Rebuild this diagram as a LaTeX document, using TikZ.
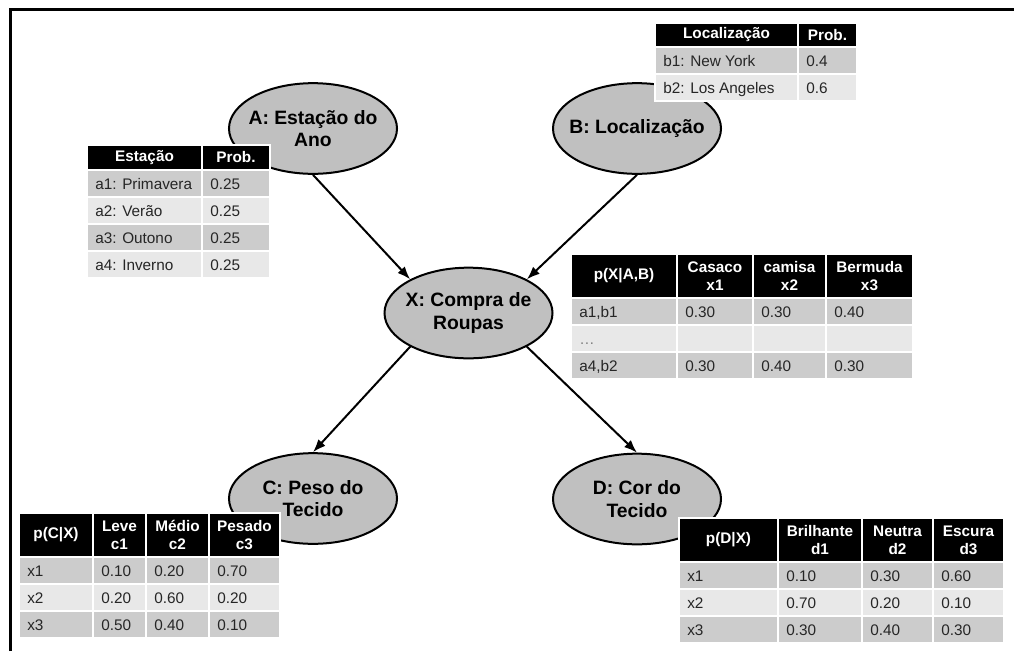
\documentclass[tikz,border=0pt]{standalone}
\usepackage{fontspec}
\setmainfont{Liberation Sans}
\usetikzlibrary{arrows.meta,shapes.geometric}
\definecolor{ovalgray}{HTML}{C0C0C0}
\definecolor{rowdark}{HTML}{CCCCCC}
\definecolor{rowlight}{HTML}{E8E8E8}
\definecolor{celltext}{HTML}{262626}
\newcommand{\ovalfont}{\bfseries\fontsize{14.5}{17}\selectfont}
\newcommand{\headfont}{\bfseries\fontsize{11.5}{13.5}\selectfont}
\newcommand{\cellfont}{\fontsize{11.5}{13.5}\selectfont}

\begin{document}
\begin{tikzpicture}[x=.75pt,y=-.75pt,>=Latex,
  oval/.style={ellipse,draw,line width=1.5pt,fill=ovalgray,minimum width=126pt,minimum height=68pt,inner xsep=-8pt,inner ysep=0pt,align=center,font=\ovalfont},
  link/.style={->,line width=1.5pt},
  cell/.style={draw=white,line width=1pt},
  hd/.style={text=white,font=\headfont,align=center,inner sep=0pt},
  tx/.style={anchor=base west,text=celltext,font=\cellfont,inner sep=0pt}]
\useasboundingbox (0,0) rectangle (1014,651);
\draw[line width=2.25pt] (10.5,651)--(10.5,9.5)--(1014,9.5);

\node[oval] (A) at (313,128.5) {A: Estação do\\Ano};
\node[oval] (B) at (637,128.5) {B: Localização};
\node[oval] (X) at (468.5,313) {X: Compra de\\Roupas};
\node[oval] (C) at (313,498.5) {C: Peso do\\Tecido};
\node[oval] (D) at (637,499) {D: Cor do\\Tecido};
\draw[link] (A.south)--(X.150);
\draw[link] (B.south)--(X.30);
\draw[link] (X.210)--(C.north);
\draw[link] (X.330)--(D.north);

\foreach \xa/\xb/\t [count=\j] in {87/202/Estação,202/270/Prob.}{
  \draw[cell,fill=black] (\xa,145) rectangle (\xb,170);
  \node[hd] (ea-0-\j) at ({(\xa+\xb)/2},157.5) {\t};
}
\foreach \ya/\yb/\c/\ta/\tb [count=\i] in {170/197/rowdark/a1: Primavera/0.25,197/224/rowlight/a2: Verão/0.25,224/251/rowdark/a3: Outono/0.25,251/278/rowlight/a4: Inverno/0.25}{
  \foreach \xa/\xb/\t [count=\j] in {87/202/\ta,202/270/\tb}{
    \draw[cell,fill=\c] (\xa,\ya) rectangle (\xb,\yb);
    \node[tx] (ea-\i-\j) at (\xa+8,{(\ya+\yb)/2+6}) {\t};
  }
}

\foreach \xa/\xb/\t [count=\j] in {655/798/Localização,798/857/Prob.}{
  \draw[cell,fill=black] (\xa,23) rectangle (\xb,47);
  \node[hd] (lb-0-\j) at ({(\xa+\xb)/2},35) {\t};
}
\foreach \ya/\yb/\c/\ta/\tb [count=\i] in {47/74/rowdark/b1: New York/0.4,74/101/rowlight/b2: Los Angeles/0.6}{
  \foreach \xa/\xb/\t [count=\j] in {655/798/\ta,798/857/\tb}{
    \draw[cell,fill=\c] (\xa,\ya) rectangle (\xb,\yb);
    \node[tx] (lb-\i-\j) at (\xa+8,{(\ya+\yb)/2+6}) {\t};
  }
}

\foreach \xa/\xb/\t [count=\j] in {571/677/{p(X|A,B)},677/753/{Casaco\\x1},753/826/{camisa\\x2},826/913/{Bermuda\\x3}}{
  \draw[cell,fill=black] (\xa,254) rectangle (\xb,298);
  \node[hd] (px-0-\j) at ({(\xa+\xb)/2},276) {\t};
}
\foreach \ya/\yb/\c/\ta/\tb/\tc/\td [count=\i] in {298/325/rowdark/{a1,b1}/0.30/0.30/0.40,325/352/rowlight/{\textcolor{gray}{\ldots}}/{}/{}/{},352/379/rowdark/{a4,b2}/0.30/0.40/0.30}{
  \foreach \xa/\xb/\t [count=\j] in {571/677/\ta,677/753/\tb,753/826/\tc,826/913/\td}{
    \draw[cell,fill=\c] (\xa,\ya) rectangle (\xb,\yb);
    \node[tx] (px-\i-\j) at (\xa+8,{(\ya+\yb)/2+6}) {\t};
  }
}

\foreach \xa/\xb/\t [count=\j] in {19/93/{p(C|X)},93/146/{Leve\\c1},146/209/{Médio\\c2},209/280/{Pesado\\c3}}{
  \draw[cell,fill=black] (\xa,513) rectangle (\xb,557);
  \node[hd] (pc-0-\j) at ({(\xa+\xb)/2},535) {\t};
}
\foreach \ya/\yb/\c/\ta/\tb/\tc/\td [count=\i] in {557/584/rowdark/x1/0.10/0.20/0.70,584/611/rowlight/x2/0.20/0.60/0.20,611/638/rowdark/x3/0.50/0.40/0.10}{
  \foreach \xa/\xb/\t [count=\j] in {19/93/\ta,93/146/\tb,146/209/\tc,209/280/\td}{
    \draw[cell,fill=\c] (\xa,\ya) rectangle (\xb,\yb);
    \node[tx] (pc-\i-\j) at (\xa+8,{(\ya+\yb)/2+6}) {\t};
  }
}

\foreach \xa/\xb/\t [count=\j] in {679/778/{p(D|X)},778/862/{Brilhante\\d1},862/933/{Neutra\\d2},933/1004/{Escura\\d3}}{
  \draw[cell,fill=black] (\xa,518) rectangle (\xb,562);
  \node[hd] (pd-0-\j) at ({(\xa+\xb)/2},540) {\t};
}
\foreach \ya/\yb/\c/\ta/\tb/\tc/\td [count=\i] in {562/589/rowdark/x1/0.10/0.30/0.60,589/616/rowlight/x2/0.70/0.20/0.10,616/643/rowdark/x3/0.30/0.40/0.30}{
  \foreach \xa/\xb/\t [count=\j] in {679/778/\ta,778/862/\tb,862/933/\tc,933/1004/\td}{
    \draw[cell,fill=\c] (\xa,\ya) rectangle (\xb,\yb);
    \node[tx] (pd-\i-\j) at (\xa+8,{(\ya+\yb)/2+6}) {\t};
  }
}
\end{tikzpicture}
\end{document}
